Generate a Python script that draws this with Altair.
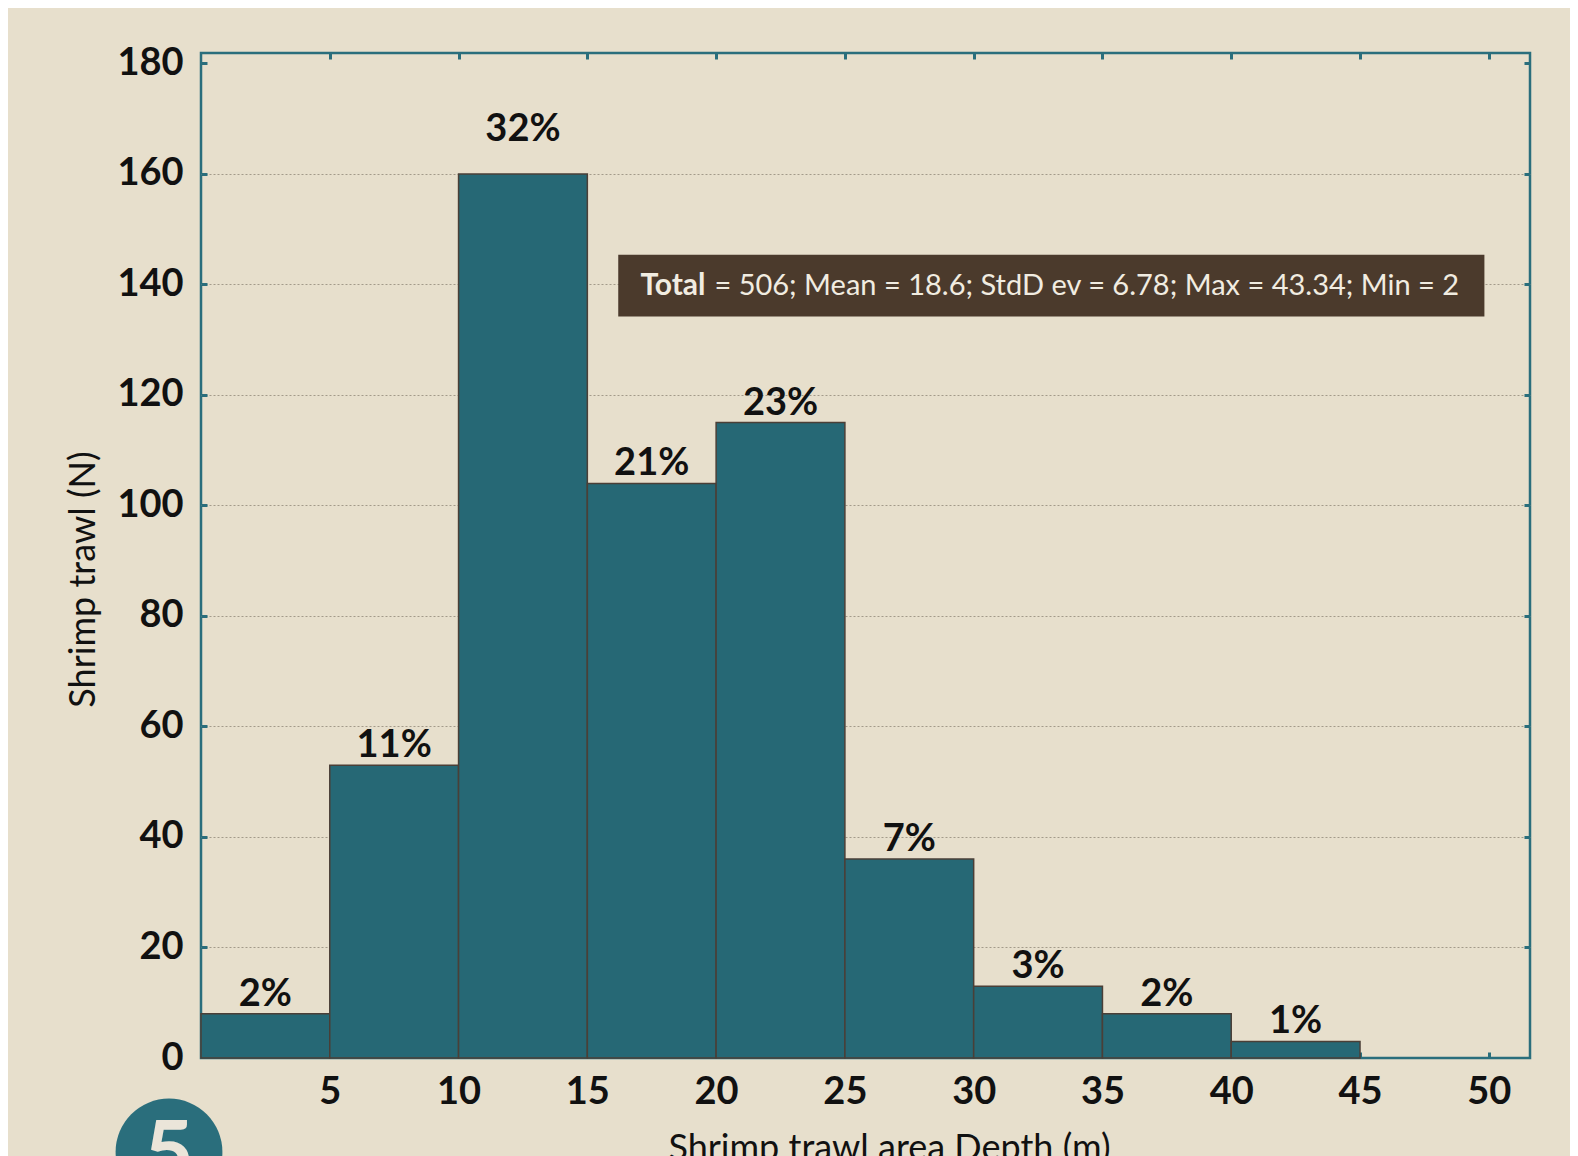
import altair as alt
import pandas as pd

# ---- data ----
bin_start = [0, 5, 10, 15, 20, 25, 30, 35, 40]
bin_width = 5
counts = [8, 53, 160, 104, 115, 36, 13, 8, 3]
pct_labels = ["2%", "11%", "32%", "21%", "23%", "7%", "3%", "2%", "1%"]
x_ticks = [5, 10, 15, 20, 25, 30, 35, 40, 45, 50]
y_ticks = [0, 20, 40, 60, 80, 100, 120, 140, 160, 180]
grid_vals = [20, 40, 60, 80, 100, 120, 140, 160]
summary_bold = "Total"
summary_rest = "= 506; Mean = 18.6; StdD ev = 6.78; Max = 43.34; Min = 2"
x_title = "Shrimp trawl area Depth (m)"
y_title = "Shrimp trawl (N)"
badge_text = "5"

df = pd.DataFrame({
    "start": bin_start,
    "end": [s + bin_width for s in bin_start],
    "mid": [s + bin_width / 2 for s in bin_start],
    "count": counts,
    "pct": pct_labels,
})
df_max = df[df["count"] == df["count"].max()]
df_rest = df[df["count"] != df["count"].max()]

TEAL = "#2a6e7c"
BAR = "#266875"
BG = "#e7dfcc"
INK = "#111111"
FONT = "Lato"

xs = alt.Scale(domain=[0, 51.6], nice=False, zero=False)
ys = alt.Scale(domain=[0, 181.9], nice=False, zero=False)

ax_x_labels = alt.Axis(orient="bottom", values=x_ticks, ticks=False, domain=False, grid=False,
                       labelPadding=15, labelFontSize=38, labelFontWeight="bold", labelColor=INK,
                       labelFont=FONT, labelFlush=False, labelOverlap=False,
                       title=x_title, titleFontSize=36, titleFontWeight="normal", titleColor=INK,
                       titleFont=FONT, titlePadding=20, titleX=688)
ax_y_labels = alt.Axis(orient="left", values=y_ticks, ticks=False, domain=False, grid=False,
                       labelPadding=18, labelFontSize=38, labelFontWeight="bold", labelColor=INK,
                       labelFont=FONT, labelFlush=False, labelOverlap=False, labelBaseline="middle",
                       title=y_title, titleFontSize=36, titleFontWeight="normal", titleColor=INK,
                       titleFont=FONT, titlePadding=14, titleY=526)

def tick_axis(orient, vals):
    return alt.Axis(orient=orient, values=vals, labels=False, domain=False, grid=False,
                    tickSize=6, tickWidth=3, tickColor=TEAL, offset=-6, title=None)

ax_grid = alt.Axis(orient="left", values=grid_vals, labels=False, ticks=False, domain=False,
                   grid=True, gridColor="#a39a8a", gridDash=[2, 2], gridWidth=1, title=None)

bars = alt.Chart(df).mark_rect(color=BAR, stroke="#4a3f37", strokeWidth=1.5).encode(
    x=alt.X("start:Q", scale=xs, axis=ax_x_labels),
    x2="end:Q",
    y=alt.Y("count:Q", scale=ys, axis=ax_y_labels),
    y2=alt.datum(0),
)

pct_text = alt.Chart(df_rest).mark_text(font=FONT, fontSize=38, fontWeight="bold", color=INK,
                                        baseline="alphabetic", dy=-8).encode(
    x=alt.X("mid:Q", scale=xs, axis=tick_axis("top", x_ticks)),
    y=alt.Y("count:Q", scale=ys, axis=tick_axis("right", y_ticks[1:])),
    text="pct:N",
)

pct_text_max = alt.Chart(df_max).mark_text(font=FONT, fontSize=38, fontWeight="bold", color=INK,
                                           baseline="alphabetic", dy=-33).encode(
    x=alt.X("mid:Q", scale=xs, axis=tick_axis("bottom", x_ticks)),
    y=alt.Y("count:Q", scale=ys, axis=tick_axis("left", y_ticks[1:])),
    text="pct:N",
)

box_df = pd.DataFrame({"x": [16.2], "x2": [49.83], "y": [134.2], "y2": [145.4]})
box = alt.Chart(box_df).mark_rect(color="#4b3a2c").encode(
    x=alt.X("x:Q", scale=xs, axis=None),
    x2="x2:Q",
    y=alt.Y("y:Q", scale=ys, axis=ax_grid),
    y2="y2:Q",
)

txt_df = pd.DataFrame({"x": [17.06], "y": [138.1], "bold": [summary_bold], "rest": [summary_rest]})
txt_bold = alt.Chart(txt_df).mark_text(font=FONT, fontSize=30, fontWeight="bold", color="#f1ece1",
                                       align="left", baseline="alphabetic").encode(
    x=alt.X("x:Q", scale=xs, axis=None),
    y=alt.Y("y:Q", scale=ys, axis=None),
    text="bold:N",
)
txt_rest = alt.Chart(txt_df).mark_text(font=FONT, fontSize=29, fontWeight="normal", color="#f1ece1",
                                       align="left", baseline="alphabetic", dx=74).encode(
    x=alt.X("x:Q", scale=xs, axis=None),
    y=alt.Y("y:Q", scale=ys, axis=None),
    text="rest:N",
)

badge = alt.Chart(pd.DataFrame({"t": [badge_text]})).mark_circle(
    size=11406, color=TEAL, opacity=1, strokeWidth=0).encode(
    x=alt.value(-32), y=alt.value(1099))
badge_label = alt.Chart(pd.DataFrame({"t": [badge_text]})).mark_text(
    font=FONT, fontSize=86, fontWeight="bold", color="#ebe5d9", align="center",
    baseline="alphabetic").encode(x=alt.value(-32), y=alt.value(1129), text="t:N")

chart = alt.layer(bars, pct_text, pct_text_max, box, txt_bold, txt_rest, badge, badge_label).resolve_scale(
    x="shared", y="shared").resolve_axis(x="independent", y="independent").properties(
    width=1329, height=1005,
    autosize=alt.AutoSizeParams(type="none"),
    padding={"left": 193, "top": 45, "right": 40, "bottom": 98},
    background=BG,
).configure_view(stroke=TEAL, strokeWidth=2.5)

chart.save("out.html", embed_options={"renderer": "svg", "actions": False})
